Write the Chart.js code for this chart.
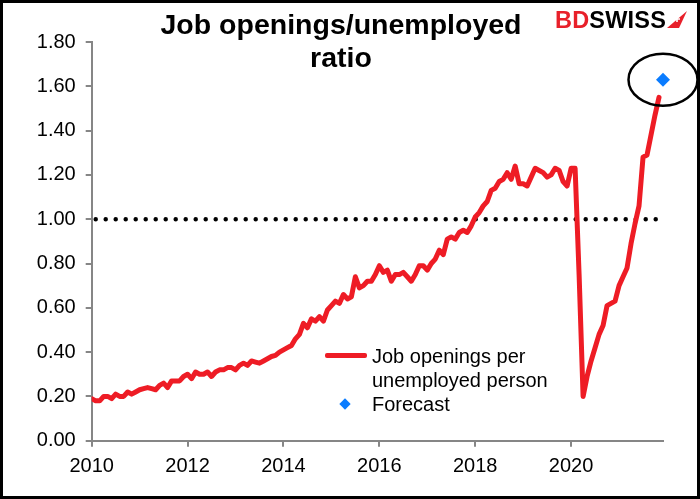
<!DOCTYPE html>
<html>
<head>
<meta charset="utf-8">
<script src="https://cdn.jsdelivr.net/npm/chart.js@4/dist/chart.umd.min.js"></script>
<style>
  body { margin: 0; background: #fff; font-family: 'Liberation Sans', Arial, sans-serif; }
  .wrap { position: relative; width: 700px; height: 499px; overflow: hidden; }
  .wrap canvas { position: absolute; left: 0; top: 0; }
  .frame { position: absolute; inset: 0; border: 3px solid #000; box-sizing: border-box; pointer-events: none; }
  .title { position: absolute; left: 141px; width: 400px; top: 8px; text-align: center;
    font-weight: bold; font-size: 28.5px; line-height: 33px; color: #000; }
  .logo { position: absolute; left: 555px; top: 7px; font-weight: bold; font-size: 23.5px;
    letter-spacing: 0.2px; white-space: nowrap; }
  .logo .bd { color: #e8202a; }
  .logo svg { vertical-align: -1px; margin-left: 1px; }
  .legend { position: absolute; left: 325px; top: 344px; font-size: 20px; line-height: 24px; color: #000; }
  .legend .row { position: relative; padding-left: 47px; }
  .legend .swatch-line { position: absolute; left: 0; top: 9px; width: 42px; height: 5px; background: #ee1c25; border-radius: 2px; }
  .legend .swatch-dot { position: absolute; left: 16px; top: 8px; width: 8px; height: 8px; background: #0a7cff; transform: rotate(45deg); }
</style>
</head>
<body>
<div class="wrap">
  <canvas id="chart" width="700" height="499"></canvas>
  <div class="title">Job openings/unemployed<br>ratio</div>
  <div class="logo"><span class="bd">BD</span>SWISS<svg width="20" height="18" viewBox="0 0 20 18"><path d="M0 17 L20 0 L12 17 Z" fill="#e8202a"/><path d="M10 5 v6 M7 8 h6" stroke="#fff" stroke-width="1.6"/></svg></div>
  <div class="legend">
    <div class="row"><span class="swatch-line"></span>Job openings per</div>
    <div class="row">unemployed person</div>
    <div class="row"><span class="swatch-dot"></span>Forecast</div>
  </div>
  <div class="frame"></div>
</div>
<script>
// monthly job openings per unemployed person, Jan..Dec of each year
const ratio2010 = [0.19, 0.18, 0.18, 0.20, 0.20, 0.19, 0.21, 0.20, 0.20, 0.22, 0.21, 0.22];
const ratio2011 = [0.23, 0.235, 0.24, 0.235, 0.23, 0.25, 0.26, 0.24, 0.27, 0.27, 0.27, 0.29];
const ratio2012 = [0.30, 0.28, 0.31, 0.30, 0.30, 0.31, 0.29, 0.31, 0.32, 0.32, 0.33, 0.33];
const ratio2013 = [0.32, 0.34, 0.35, 0.34, 0.36, 0.355, 0.35, 0.36, 0.37, 0.38, 0.385, 0.40];
const ratio2014 = [0.41, 0.42, 0.43, 0.46, 0.48, 0.53, 0.51, 0.55, 0.54, 0.56, 0.54, 0.59];
const ratio2015 = [0.61, 0.63, 0.62, 0.66, 0.64, 0.65, 0.74, 0.69, 0.70, 0.72, 0.72, 0.75];
const ratio2016 = [0.79, 0.76, 0.77, 0.72, 0.75, 0.75, 0.76, 0.74, 0.72, 0.75, 0.79, 0.79];
const ratio2017 = [0.77, 0.80, 0.82, 0.86, 0.84, 0.91, 0.92, 0.91, 0.94, 0.95, 0.94, 0.97];
const ratio2018 = [1.01, 1.03, 1.06, 1.08, 1.13, 1.14, 1.17, 1.18, 1.21, 1.18, 1.24, 1.16];
const ratio2019 = [1.16, 1.15, 1.19, 1.23, 1.22, 1.21, 1.19, 1.20, 1.23, 1.22, 1.17, 1.15];
const ratio2020 = [1.23, 1.23, 0.75, 0.20, 0.29, 0.36, 0.42, 0.48, 0.52, 0.61, 0.62, 0.63];
const ratio2021 = [0.70, 0.74, 0.78, 0.89, 0.98, 1.06, 1.28, 1.29, 1.38, 1.47, 1.55];
const forecastValue = [1.63];
const refLevel = [1.00, 1.00];

const startYear = 2010;
const yTicks = [0, 0.2, 0.4, 0.6, 0.8, 1.0, 1.2, 1.4, 1.6, 1.8];
const xTickStep = 2;

const actual = [].concat(ratio2010, ratio2011, ratio2012, ratio2013, ratio2014, ratio2015,
  ratio2016, ratio2017, ratio2018, ratio2019, ratio2020, ratio2021);
const monthX = (i) => startYear + i / 12;
const actualPts = actual.map((v, i) => ({ x: monthX(i), y: v }));
const forecastPts = forecastValue.map((v, i) => ({ x: monthX(actual.length + i), y: v }));
const refPts = [{ x: monthX(0), y: refLevel[0] }, { x: monthX(actual.length - 1), y: refLevel[1] }];

const ellipsePlugin = {
  id: 'ellipse',
  afterDatasetsDraw(chart) {
    const { ctx, scales } = chart;
    const p = forecastPts[0];
    const cx = scales.x.getPixelForValue(p.x);
    const cy = scales.y.getPixelForValue(p.y);
    ctx.save();
    ctx.beginPath();
    ctx.ellipse(cx, cy, 34.5, 26, 0, 0, Math.PI * 2);
    ctx.lineWidth = 2.5;
    ctx.strokeStyle = '#000';
    ctx.stroke();
    ctx.restore();
  },
};

const axisGray = '#868686';
const tickFont = { family: "'Liberation Sans', Arial, sans-serif", size: 20 };

new Chart(document.getElementById('chart'), {
  type: 'line',
  data: {
    datasets: [
      {
        label: 'One',
        data: refPts,
        borderColor: '#000',
        borderWidth: 4.5,
        borderDash: [0, 10],
        borderDashOffset: 6,
        borderCapStyle: 'round',
        pointRadius: 0,
        order: 3,
      },
      {
        label: 'Job openings per unemployed person',
        data: actualPts,
        borderColor: '#ee1c25',
        borderWidth: 5,
        borderJoinStyle: 'round',
        borderCapStyle: 'round',
        pointRadius: 0,
        tension: 0,
        order: 2,
      },
      {
        label: 'Forecast',
        data: forecastPts,
        showLine: false,
        pointStyle: 'rectRot',
        pointRadius: 7,
        pointBackgroundColor: '#0a7cff',
        pointBorderWidth: 0,
        clip: false,
        order: 1,
      },
    ],
  },
  options: {
    responsive: false,
    animation: false,
    layout: { padding: { left: 0, top: 42, right: 37, bottom: 0 } },
    plugins: { legend: { display: false }, tooltip: { enabled: false } },
    scales: {
      x: {
        type: 'linear',
        min: startYear,
        max: monthX(actual.length),
        afterFit: (s) => { s.height = 58.3; },
        border: { color: axisGray, width: 2 },
        grid: { drawOnChartArea: false, drawTicks: true, tickLength: 6, color: axisGray, lineWidth: 2 },
        ticks: {
          stepSize: xTickStep,
          includeBounds: false,
          autoSkip: false,
          maxRotation: 0,
          padding: 8,
          color: '#000',
          font: tickFont,
          callback: (v) => String(v),
        },
      },
      y: {
        min: yTicks[0],
        max: yTicks[yTicks.length - 1],
        afterFit: (s) => { s.width = 91.7; },
        border: { color: axisGray, width: 2 },
        grid: { drawOnChartArea: false, drawTicks: true, tickLength: 6, color: axisGray, lineWidth: 2 },
        ticks: {
          stepSize: 0.2,
          padding: 10,
          color: '#000',
          font: tickFont,
          callback: (v) => v.toFixed(2),
        },
      },
    },
  },
  plugins: [ellipsePlugin],
});
</script>
</body>
</html>
